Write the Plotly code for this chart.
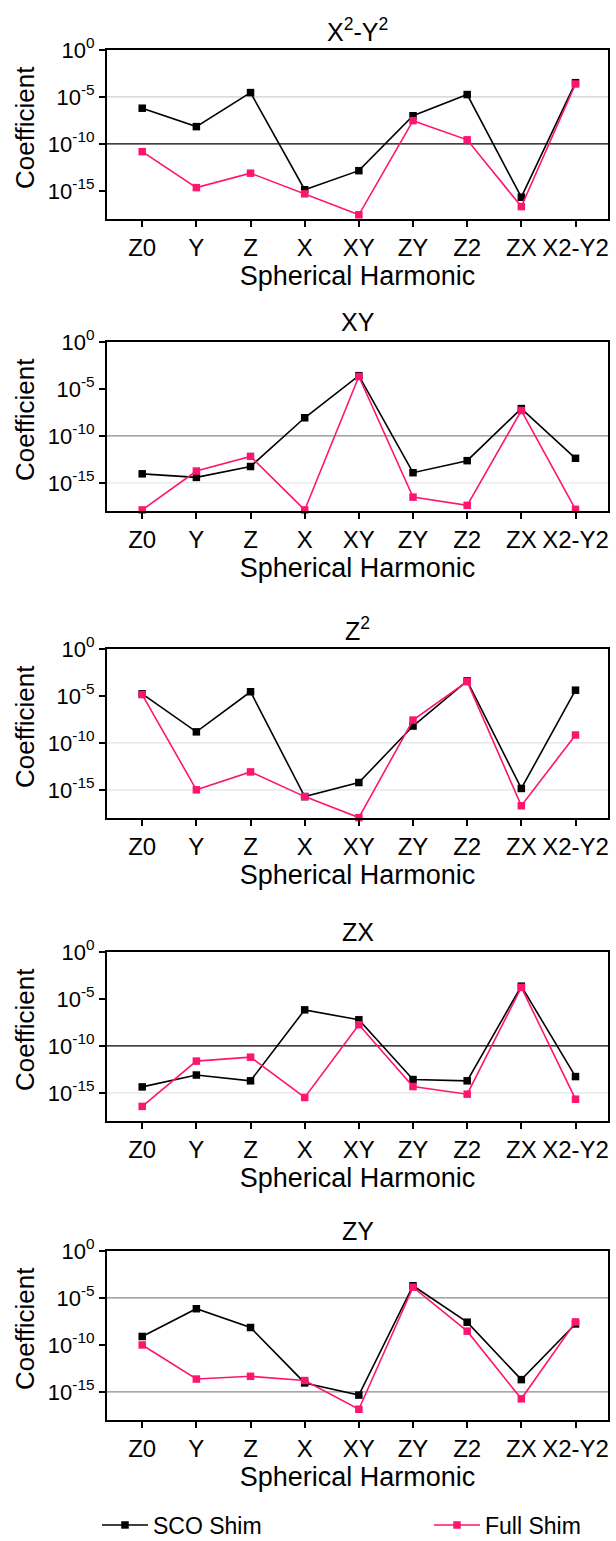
import plotly.graph_objects as go

# ---------------- data ----------------
harmonics = ["Z0", "Y", "Z", "X", "XY", "ZY", "Z2", "ZX", "X2-Y2"]
panel_titles = ["X<sup>2</sup>-Y<sup>2</sup>", "XY", "Z<sup>2</sup>", "ZX", "ZY"]

sco_x2y2 = [6.3e-7, 6.9e-9, 2.9e-5, 1.3e-15, 1.4e-13, 1.0e-7, 1.8e-5, 2.1e-16, 3.3e-4]
full_x2y2 = [1.5e-11, 2.2e-15, 7.6e-14, 4.8e-16, 2.8e-18, 3.0e-8, 2.7e-10, 2.1e-17, 2.4e-4]

sco_xy = [9.1e-15, 3.8e-15, 5.5e-14, 8.5e-9, 2.6e-4, 1.2e-14, 2.3e-13, 8.1e-8, 4.1e-13]
full_xy = [1.3e-18, 1.8e-14, 6.6e-13, 1.3e-18, 2.1e-4, 3.0e-17, 4.0e-18, 5.0e-8, 1.5e-18]

sco_z2 = [1.7e-5, 1.5e-9, 2.8e-5, 1.9e-16, 6.0e-15, 6.2e-9, 4.0e-4, 1.4e-15, 4.1e-5]
full_z2 = [1.4e-5, 1.0e-15, 8.1e-14, 1.9e-16, 1.1e-18, 2.7e-8, 3.4e-4, 2.0e-17, 6.9e-10]

sco_zx = [4.3e-15, 7.9e-14, 1.9e-14, 6.9e-7, 6.0e-8, 2.6e-14, 1.9e-14, 2.3e-4, 5.4e-14]
full_zx = [3.6e-17, 2.4e-12, 6.3e-12, 3.2e-16, 1.8e-8, 4.7e-15, 7.2e-16, 1.7e-4, 2.1e-16]

sco_zy = [7.9e-10, 7.1e-7, 7.1e-9, 8.9e-15, 4.5e-16, 2.0e-4, 2.6e-8, 2.0e-14, 1.7e-8]
full_zy = [9.8e-11, 2.3e-14, 4.5e-14, 1.6e-14, 1.4e-17, 1.4e-4, 2.9e-9, 1.8e-16, 2.8e-8]

sco_series = [sco_x2y2, sco_xy, sco_z2, sco_zx, sco_zy]
full_series = [full_x2y2, full_xy, full_z2, full_zx, full_zy]

ytick_vals = [1, 1e-5, 1e-10, 1e-15]
ytick_text = ["10<sup>0</sup>", "10<sup>-5</sup>", "10<sup>-10</sup>", "10<sup>-15</sup>"]

# reference lines per panel (value, colour)
panel_lines = [
    [(1e-5, "#cfcfcf"), (1e-10, "#000000")],
    [(1e-10, "#8a8a8a"), (1e-15, "#e6e6e6")],
    [(1e-10, "#e3e3e3"), (1e-15, "#e3e3e3")],
    [(1e-10, "#000000"), (1e-15, "#e3e3e3")],
    [(1e-5, "#8a8a8a"), (1e-15, "#8a8a8a")],
]

# ---------------- layout geometry ----------------
W, H = 616, 1541
FONT = "Liberation Sans, Arial, sans-serif"
BLACK = "#000000"
PINK = "#FF1470"
panel_tops = [50, 342, 649, 952, 1251]
panel_h = 169
x_left, x_right = 107, 608

fig = go.Figure()
layout = dict(
    width=W, height=H,
    margin=dict(l=0, r=0, t=0, b=0, autoexpand=False),
    paper_bgcolor="white", plot_bgcolor="white",
    font=dict(family=FONT, color="black"),
    showlegend=True,
)
annotations = []
shapes = []

for i in range(5):
    n = i + 1
    xa = "x" if n == 1 else f"x{n}"
    ya = "y" if n == 1 else f"y{n}"
    top = panel_tops[i]
    dom = [1 - (top + panel_h) / H, 1 - top / H]

    fig.add_trace(go.Scatter(
        x=harmonics, y=sco_series[i], mode="lines+markers", name="SCO Shim",
        line=dict(color=BLACK, width=1.6),
        marker=dict(symbol="square", size=7.5, color=BLACK),
        cliponaxis=False, showlegend=(i == 0), legend="legend",
        xaxis=xa, yaxis=ya,
    ))
    fig.add_trace(go.Scatter(
        x=harmonics, y=full_series[i], mode="lines+markers", name="Full Shim",
        line=dict(color=PINK, width=1.6),
        marker=dict(symbol="square", size=7.5, color=PINK),
        cliponaxis=False, showlegend=(i == 0), legend="legend2",
        xaxis=xa, yaxis=ya,
    ))

    layout["xaxis" if n == 1 else f"xaxis{n}"] = dict(
        domain=[x_left / W, x_right / W], anchor=ya,
        type="category", categoryorder="array", categoryarray=harmonics,
        range=[-0.65, 8.6],
        showline=True, mirror=True, linecolor="black", linewidth=2,
        ticks="outside", ticklen=6, tickwidth=2, tickcolor="black",
        showgrid=False, zeroline=False,
        tickfont=dict(size=24, family=FONT),
        title=dict(text="Spherical Harmonic", font=dict(size=27, family=FONT), standoff=5),
    )
    layout["yaxis" if n == 1 else f"yaxis{n}"] = dict(
        domain=dom, anchor=xa, type="log", range=[-18, 0],
        showline=True, mirror=True, linecolor="black", linewidth=2,
        ticks="outside", ticklen=6, tickwidth=2, tickcolor="black",
        tickvals=ytick_vals, ticktext=ytick_text,
        showgrid=False, zeroline=False,
        tickfont=dict(size=22, family=FONT),
    )

    # panel title
    annotations.append(dict(
        text=panel_titles[i], xref="paper", yref="paper",
        x=(x_left + x_right) / 2 / W, y=1 - (top - 20) / H,
        showarrow=False, font=dict(size=25, family=FONT),
        xanchor="center", yanchor="middle",
    ))
    # y-axis title
    annotations.append(dict(
        text="Coefficient", xref="paper", yref="paper",
        x=25 / W, y=1 - (top + 78) / H, textangle=-90,
        showarrow=False, font=dict(size=26, family=FONT),
        xanchor="center", yanchor="middle",
    ))
    # reference lines
    for val, col in panel_lines[i]:
        shapes.append(dict(
            type="line", xref=f"{xa} domain", yref=ya,
            x0=0, x1=1, y0=val, y1=val, layer="below",
            line=dict(color=col, width=1.2),
        ))

layout["annotations"] = annotations
layout["shapes"] = shapes
legend_common = dict(
    orientation="h", y=1 - 1525 / H, xanchor="left", yanchor="middle",
    font=dict(size=23, family=FONT), bgcolor="rgba(0,0,0,0)",
    itemwidth=46,
)
layout["legend"] = dict(x=97 / W, **legend_common)
layout["legend2"] = dict(x=429 / W, **legend_common)
fig.update_layout(**layout)
fig.write_html("out.html")
